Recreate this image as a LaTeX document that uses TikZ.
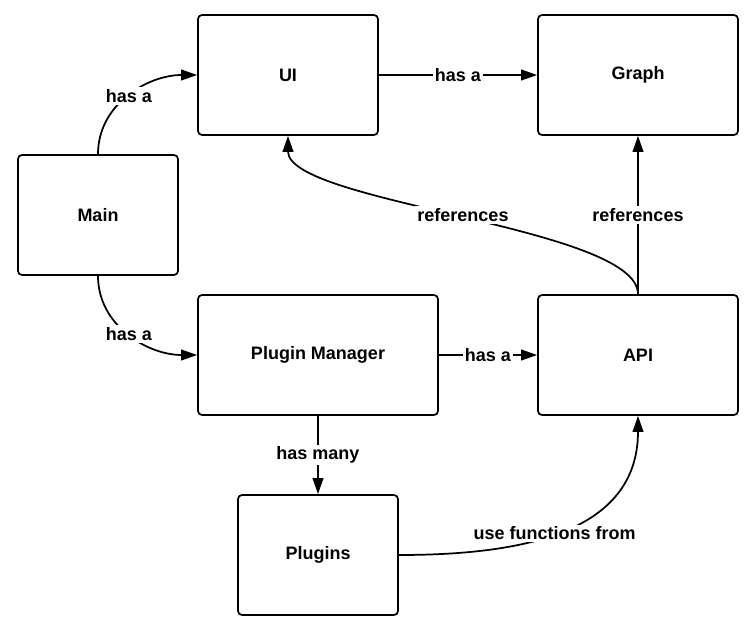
\documentclass[tikz,border=0pt]{standalone}
\usepackage{fontspec}
\setmainfont{Liberation Sans}
\usetikzlibrary{arrows.meta}
\begin{document}
\begin{tikzpicture}[x=0.75pt,y=0.75pt,
  box/.style={draw,line width=1.3pt,rounded corners=3pt,minimum height=90pt,font=\fontsize{13.5}{15}\selectfont\bfseries,inner sep=0pt},
  conn/.style={line width=1.3pt,-{Triangle[length=12pt,width=8pt]}},
  lbl/.style={fill=white,inner sep=1.5pt,font=\fontsize{13.5}{15}\selectfont\bfseries}]
\useasboundingbox (0,0) rectangle (750,633);
\node[box,minimum width=135pt] (ui) at (288,558) {UI};
\node[box,minimum width=150pt] (graph) at (638,558) {Graph};
\node[box,minimum width=120pt] (main) at (98,418) {Main};
\node[box,minimum width=180pt] (pm) at (318,278) {Plugin Manager};
\node[box,minimum width=150pt] (api) at (638,278) {API};
\node[box,minimum width=120pt] (plugins) at (318,78) {Plugins};
\draw[conn] (main.north) to[out=90,in=180] node[lbl]{has a} (ui.west);
\draw[conn] (main.south) to[out=-90,in=180] node[lbl]{has a} (pm.west);
\draw[conn] (ui.east) -- node[lbl]{has a} (graph.west);
\draw[conn] (pm.east) -- node[lbl]{has a} (api.west);
\draw[conn] (pm.south) -- node[lbl]{has many} (plugins.north);
\draw[conn] (api.north) -- node[lbl]{references} (graph.south);
\draw[conn] (api.north) to[out=90,in=-90,looseness=0.45] node[lbl]{references} (ui.south);
\draw[conn] (plugins.east) to[out=0,in=-90,looseness=1.1] node[lbl,pos=0.47]{use functions from} (api.south);
\end{tikzpicture}
\end{document}
